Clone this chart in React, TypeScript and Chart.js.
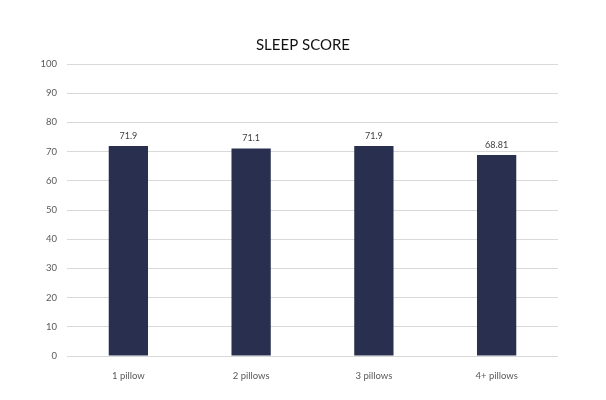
import { useEffect, useRef } from 'react';
import { Chart, ChartConfiguration, Plugin, registerables } from 'chart.js';

Chart.register(...registerables);

const chartTitle = 'SLEEP SCORE';
const categories = ['1 pillow', '2 pillows', '3 pillows', '4+ pillows'];
const sleepScores = [71.9, 71.1, 71.9, 68.81];
const scoreLabels = ['71.9', '71.1', '71.9', '68.81'];

const FONT = 'Lato, "Open Sans", sans-serif';

// value labels above each bar, and the title centred on the whole canvas
const barValues: Plugin<'bar'> = {
  id: 'barValues',
  afterDatasetsDraw(chart) {
    const ctx = chart.ctx;
    const meta = chart.getDatasetMeta(0);
    ctx.save();
    ctx.font = `9px ${FONT}`;
    ctx.fillStyle = '#404040';
    ctx.textAlign = 'center';
    ctx.textBaseline = 'middle';
    meta.data.forEach((bar, i) => {
      ctx.fillText(scoreLabels[i], bar.x, bar.y - 10);
    });

    ctx.font = `15px ${FONT}`;
    ctx.fillStyle = '#111111';
    ctx.fillText(chartTitle, chart.width / 2, 45);
    ctx.restore();
  },
};

export default function App() {
  const canvasRef = useRef<HTMLCanvasElement>(null);
  const chartRef = useRef<Chart | null>(null);

  useEffect(() => {
    document.body.style.margin = '0';
    if (!canvasRef.current) return;
    const ctx = canvasRef.current.getContext('2d');
    if (!ctx) return;
    if (chartRef.current) chartRef.current.destroy();

    const config: ChartConfiguration<'bar'> = {
      type: 'bar',
      data: {
        labels: categories,
        datasets: [
          {
            label: 'Sleep score',
            data: sleepScores,
            backgroundColor: '#29304f',
            categoryPercentage: 1,
            barPercentage: 0.32,
          },
        ],
      },
      options: {
        animation: false,
        responsive: false,
        layout: { padding: { top: 64, right: 48, bottom: 0, left: 0 } },
        plugins: {
          legend: { display: false },
          tooltip: { enabled: false },
          title: { display: false },
        },
        scales: {
          x: {
            grid: { display: false },
            border: { display: false },
            ticks: {
              color: '#595959',
              font: { family: FONT, size: 9.5 },
              padding: 6,
            },
            afterFit(scale) {
              scale.height = 44;
            },
          },
          y: {
            min: 0,
            max: 100,
            ticks: {
              stepSize: 10,
              color: '#595959',
              font: { family: FONT, size: 9.5 },
              padding: 10,
            },
            grid: { color: '#d9d9d9', lineWidth: 1, drawTicks: false },
            border: { display: false },
            afterFit(scale) {
              scale.width = 67;
            },
          },
        },
      },
      plugins: [barValues],
    };

    chartRef.current = new Chart(ctx, config);
    return () => {
      chartRef.current?.destroy();
      chartRef.current = null;
    };
  }, []);

  return (
    <div style={{ width: 606, height: 400, background: '#fff' }}>
      <canvas ref={canvasRef} width={606} height={400}></canvas>
    </div>
  );
}
